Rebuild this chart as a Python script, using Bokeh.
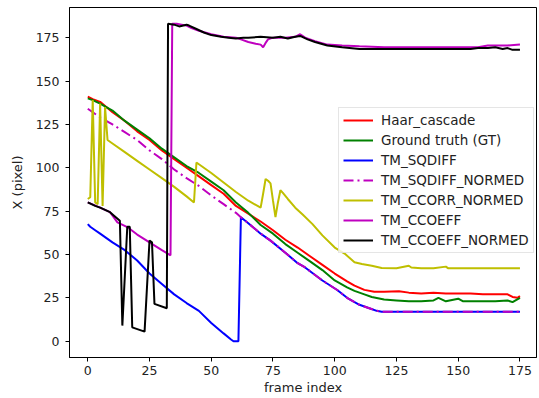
from bokeh.plotting import figure
from bokeh.models import Range1d, FixedTicker
from bokeh.embed import file_html
from bokeh.resources import INLINE

# ---- data (frame index -> X pixel) ----
haar_f = [0, 2, 5, 10, 15, 20, 25, 30, 35, 40, 45, 50, 55, 60, 65, 70, 75, 80, 85, 90, 95, 100, 105, 108, 112, 116, 120, 126, 130, 135, 140, 145, 150, 155, 160, 165, 170, 172, 174, 175]
haar_v = [141, 139.5, 138, 132, 127, 121, 116, 110, 105, 100, 95, 90, 85, 78, 73.5, 69, 64, 58.5, 54, 49, 44, 39, 34.5, 32, 29.6, 28.5, 28.5, 28.8, 28, 27.5, 28, 27.5, 27.5, 27.5, 27, 27, 27, 25.5, 25, 26]

gt_f = [0, 2, 5, 10, 15, 20, 25, 30, 35, 40, 45, 50, 55, 60, 65, 70, 75, 80, 85, 90, 95, 100, 105, 108, 112, 115, 120, 125, 130, 135, 140, 142, 145, 150, 152, 160, 165, 170, 172, 175]
gt_v = [140, 139, 137, 133, 127, 122, 117, 111, 106, 101, 97, 92, 87, 80, 74, 67, 62, 56, 51, 46, 41, 35, 31, 29, 27, 25.5, 24, 23.5, 23, 23, 23.5, 25, 23, 24.5, 23, 23, 23, 23.5, 22.5, 25]

sqdiff_f = [0, 1, 3, 5, 10, 15, 20, 25, 30, 35, 40, 45, 50, 55, 58, 59, 61, 62, 65, 70, 74, 80, 85, 88, 95, 101, 105, 110, 114, 117, 119, 130, 140, 150, 160, 170, 175]
sqdiff_v = [67.5, 66, 64, 62, 57, 52.5, 46.5, 39, 33, 27, 22, 17.5, 10.5, 4.5, 1, 0, 0, 71.5, 68, 62, 58, 51, 45, 42.5, 35, 29.5, 25, 21, 19, 17.5, 17, 17, 17, 17, 17, 17, 17]

sqn_f = [0, 5, 10, 15, 20, 25, 30, 35, 40, 45, 50, 55, 60, 62, 65, 70, 74, 80, 85, 88, 95, 101, 105, 110, 114, 117, 119, 130, 140, 150, 160, 170, 175]
sqn_v = [134, 129, 125, 120.5, 116, 110, 105, 99, 94, 89.5, 84, 79, 74, 71.5, 68, 62, 58, 51, 45, 42.5, 35, 29.5, 25, 21, 19, 17.5, 17, 17, 17, 17, 17, 17, 17]

ccorr_f = [0, 1, 2, 3, 4, 5, 6, 7, 8, 10, 15, 20, 25, 30, 35, 40, 43, 44, 50, 55, 60, 65, 70, 71, 72, 73, 74, 75, 76, 77, 78, 79, 81, 84, 87, 91, 95, 100, 104, 108, 111, 115, 119, 125, 130, 131, 135, 140, 145, 146, 150, 160, 170, 175]
ccorr_v = [82, 83, 139, 80, 79, 137, 78, 135, 116, 114, 109, 104, 99, 94, 89, 83.5, 80, 103, 97, 91.5, 86, 81, 77, 85, 93.5, 92.5, 91, 81, 71.5, 80, 87, 85.5, 82, 77, 73, 67.5, 61, 54, 50.5, 45.5, 44.5, 43.5, 42.2, 42, 43.5, 42.5, 42, 42, 43, 42, 42, 42, 42, 42]

ccoeff_f = [0, 5, 9, 12, 16, 20, 25, 30, 33.5, 34.2, 36, 38, 40, 42, 45, 50, 55, 60, 62, 65, 68, 70, 71, 72, 73, 75, 80, 84, 86, 88, 92, 97, 103, 110, 120, 130, 140, 150, 158, 162, 166, 170, 175]
ccoeff_v = [80, 77, 74.4, 68.5, 65.8, 61.5, 57, 52.5, 49.5, 183, 183, 182.5, 182, 180.5, 179, 177, 175.5, 175, 174, 172.5, 171.5, 171, 169.5, 172, 174, 175, 175, 175.5, 177, 175, 173, 171, 170.5, 170, 169.5, 169.5, 169.5, 169.5, 169.5, 170.5, 170.5, 170.5, 171]

ccoeffn_f = [0, 3, 5, 9, 13, 14, 16, 17, 18, 23, 25, 26, 27, 32, 32.5, 35, 37, 40, 41, 44, 47, 50, 54, 57, 60, 63, 65, 70, 75, 78, 81, 84, 86, 89, 92, 97, 103, 110, 120, 130, 140, 150, 155, 158, 162, 165, 168, 170, 172, 175]
ccoeffn_v = [80, 78, 77, 74.4, 69.5, 9, 66, 66, 8, 5.5, 58, 57, 21.5, 19, 183, 182.5, 181.5, 182.5, 182, 180, 178, 176.5, 175.5, 175, 174.5, 175, 175, 175.5, 175, 175.5, 174.5, 175.5, 176, 174, 172.5, 170.5, 169.5, 168.5, 168.5, 168.5, 168.5, 168.5, 168.5, 169, 169, 169.5, 168.5, 169, 168, 168]

x_ticks = [0, 25, 50, 75, 100, 125, 150, 175]
y_ticks = [0, 25, 50, 75, 100, 125, 150, 175]

FONT = "DejaVu Sans"

p = figure(width=538, height=397, output_backend="svg", toolbar_location=None,
           x_range=Range1d(-7.4, 181.7), y_range=Range1d(-9.4, 192.4),
           min_border_left=69, min_border_right=2, min_border_top=7, min_border_bottom=40)

p.line(haar_f, haar_v, color="#ff0000", line_width=2, legend_label="Haar_cascade")
p.line(gt_f, gt_v, color="#008000", line_width=2, legend_label="Ground truth (GT)")
p.line(sqdiff_f, sqdiff_v, color="#0000ff", line_width=2, legend_label="TM_SQDIFF")
p.line(sqn_f, sqn_v, color="#bf00bf", line_width=2, line_dash="10 4 2 4", legend_label="TM_SQDIFF_NORMED")
p.line(ccorr_f, ccorr_v, color="#bfbf00", line_width=2, legend_label="TM_CCORR_NORMED")
p.line(ccoeff_f, ccoeff_v, color="#bf00bf", line_width=2, legend_label="TM_CCOEFF")
p.line(ccoeffn_f, ccoeffn_v, color="#000000", line_width=2, legend_label="TM_CCOEFF_NORMED")

p.xgrid.visible = False
p.ygrid.visible = False
p.outline_line_color = "black"
p.outline_line_width = 1
p.background_fill_color = "white"
p.border_fill_color = "white"

for ax, ticks in ((p.xaxis, x_ticks), (p.yaxis, y_ticks)):
    ax.ticker = FixedTicker(ticks=ticks)
    ax.minor_tick_line_color = None
    ax.major_tick_out = 4
    ax.major_tick_in = 0
    ax.major_label_text_font = FONT
    ax.major_label_text_font_size = "12.5px"
    ax.major_label_text_color = "#222222"
    ax.axis_label_text_font = FONT
    ax.axis_label_text_font_size = "13px"
    ax.axis_label_text_font_style = "normal"
    ax.axis_label_text_color = "#222222"
    ax.axis_line_color = "black"

p.xaxis.axis_label = "frame index"
p.yaxis.axis_label = "X (pixel)"
p.xaxis.major_label_standoff = 4
p.xaxis.axis_label_standoff = 2
p.yaxis.major_label_standoff = 6
p.yaxis.axis_label_standoff = 8

lg = p.legend[0]
lg.location = (269, 104)
lg.label_text_font = FONT
lg.label_text_font_size = "13.5px"
lg.label_text_color = "#222222"
lg.glyph_width = 30
lg.glyph_height = 16
lg.label_height = 16
lg.label_standoff = 8
lg.spacing = 4
lg.padding = 4
lg.margin = 0
lg.border_line_color = "#cccccc"
lg.border_line_width = 1
lg.background_fill_alpha = 0.8

open("out.html", "w").write(file_html(p, INLINE))
